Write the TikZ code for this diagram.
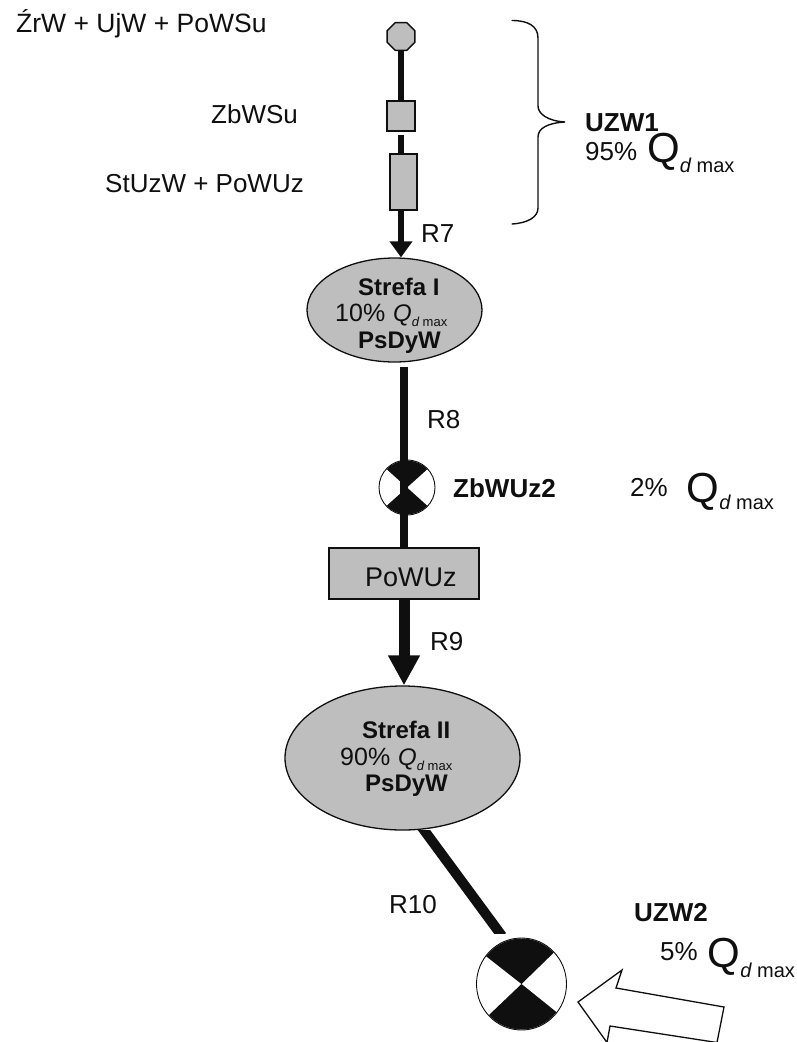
\documentclass[tikz,border=0pt]{standalone}
\usepackage{fontspec}
\setmainfont{Liberation Sans}
\usetikzlibrary{shapes.geometric,arrows.meta}
\definecolor{ink}{HTML}{0F0F0F}
\definecolor{shade}{HTML}{BEBEBE}
\newcommand{\fsz}[1]{\fontsize{#1}{#1}\selectfont}
\newcommand{\Qdm}[4]{\raisebox{#3}{\fsz{#1}\itshape Q}\raisebox{#4}{\fsz{#2}\itshape d \upshape max}}
\newcommand{\Qbig}[2]{\raisebox{#1}{\fsz{42}Q}\raisebox{#2}{\fsz{20}\itshape d \upshape max}}
\tikzset{
  label text/.style={inner sep=0pt,anchor=base west,font=\fsz{26},text=ink},
  zone head/.style={inner sep=0pt,anchor=base west,font=\fsz{24}\bfseries,text=ink},
  zone flow/.style={inner sep=0pt,anchor=base west,font=\fsz{25},text=ink},
  boxshape/.style={draw=ink,line width=1.6pt,fill=shade,inner sep=0pt,rectangle},
  oval/.style={draw=ink,line width=1.3pt,fill=shade,ellipse,inner sep=0pt},
  oct/.style={draw=ink,line width=1.4pt,fill=shade,regular polygon,regular polygon sides=8,inner sep=0pt,minimum size=30pt},
  valve/.style={draw=ink,line width=0.9pt,fill=white,ellipse,inner sep=0pt},
  pipe/.style={draw=ink,line cap=butt},
}
\begin{document}
\begin{tikzpicture}[x=1pt,y=-1pt]
\useasboundingbox (0,0) rectangle (797,1042);
\clip (0,0) rectangle (797,1042);
\node[oct] (src) at (401,36.5) {};
\node[boxshape,minimum width=28pt,minimum height=30pt] (sq) at (401,116) {};
\node[boxshape,minimum width=27pt,minimum height=56pt] (tank) at (403.5,182) {};
\node[oval,minimum width=175pt,minimum height=104pt] (e1) at (394.5,310) {};
\node[valve,minimum width=56pt,minimum height=55pt] (v1) at (407,487.5) {};
\node[boxshape,minimum width=150pt,minimum height=51pt] (pump) at (404,573.5) {};
\node[oval,minimum width=235pt,minimum height=144pt] (e2) at (402.5,758) {};
\node[valve,minimum width=90pt,minimum height=92pt] (v2) at (521.5,984) {};
\coordinate (e1low) at (404,367);
\coordinate (r10a) at (421,826);
\coordinate (r10b) at (502,936);
\draw[pipe,line width=6pt] (src.south) -- (sq.north);
\draw[pipe,line width=6pt] ([yshift=-3pt]sq.south) -- (sq.south |- tank.north);
\draw[pipe,line width=6pt,-{Triangle[width=22pt,length=16pt]}] (sq.south |- tank.south) -- (sq.south |- e1.north);
\draw[pipe,line width=8pt] (e1low) -- (e1low |- pump.north);
\draw[pipe,line width=11pt,-{Triangle[width=30pt,length=30pt]}] (pump.south) -- (pump.south |- e2.north);
\begin{scope}
\clip (380,830) rectangle (540,933);
\draw[pipe,line width=10pt] (r10a) -- (r10b);
\end{scope}
% valve sectors
\begin{scope}
\clip (v1.center) ellipse [x radius=27.5pt,y radius=27pt];
\fill[ink] (v1.center) -- (367,451.5) -- (447,451.5) -- cycle;
\fill[ink] (v1.center) -- (367,523.5) -- (447,523.5) -- cycle;
\end{scope}
\begin{scope}
\clip (v2.center) ellipse [x radius=44.5pt,y radius=45.5pt];
\fill[ink] (v2.center) -- (459,935) -- (576,931) -- cycle;
\fill[ink] (v2.center) -- (468,1035) -- (585,1035) -- cycle;
\end{scope}
% brace
\draw[ink,line width=1.4pt,line cap=round]
  (512,20.5) .. controls (528,20.5) and (538,26) .. (538,38)
  -- (538,106) .. controls (538,114) and (548,121) .. (565,122)
  .. controls (548,123) and (538,128) .. (538,137)
  -- (538,208) .. controls (538,217) and (528,223) .. (512,224);
% big arrow
\draw[ink,line width=1.3pt,fill=white,line join=miter]
  (578,1002) -- (622,970) -- (616,988) -- (724,1007) -- (717,1042.5)
  -- (610,1026) -- (607,1042.5) -- cycle;
% texts
\node[label text,font=\fsz{26.5}] (t1) at (16,32) {ŹrW + UjW + PoWSu};
\node[label text] (t2) at (211,123) {ZbWSu};
\node[label text] (t3) at (105,192) {StUzW + PoWUz};
\node[label text] (r7) at (421,242) {R7};
\node[label text,font=\fsz{26}\bfseries] (u1) at (585,131) {UZW1};
\node[label text] (u1q) at (585,160) {95\%\hspace{10pt}\Qbig{-2pt}{-12pt}};
\node[zone head] (s1a) at (358,295.6) {Strefa I};
\node[zone flow] (s1b) at (335,321) {10\%\hspace{8pt}\Qdm{24}{13}{0pt}{-5pt}};
\node[zone head] (s1c) at (358,348.6) {PsDyW};
\node[label text] (r8) at (427,428) {R8};
\node[label text,font=\fsz{26}\bfseries] (z2) at (453,497) {ZbWUz2};
\node[label text] (z2q) at (630,496) {2\%\hspace{19pt}\Qbig{-6pt}{-13pt}};
\node[label text,font=\fsz{27}] (pw) at (365,586) {PoWUz};
\node[label text] (r9) at (430,650) {R9};
\node[zone head] (s2a) at (362,738.6) {Strefa II};
\node[zone flow] (s2b) at (340,765) {90\%\hspace{8pt}\Qdm{24}{13}{0pt}{-5pt}};
\node[zone head] (s2c) at (365,791.6) {PsDyW};
\node[label text] (r10) at (389,913) {R10};
\node[label text,font=\fsz{26}\bfseries] (u2) at (634,921) {UZW2};
\node[label text] (u2q) at (660,960) {5\%\hspace{10pt}\Qbig{-7pt}{-17pt}};
\end{tikzpicture}
\end{document}
